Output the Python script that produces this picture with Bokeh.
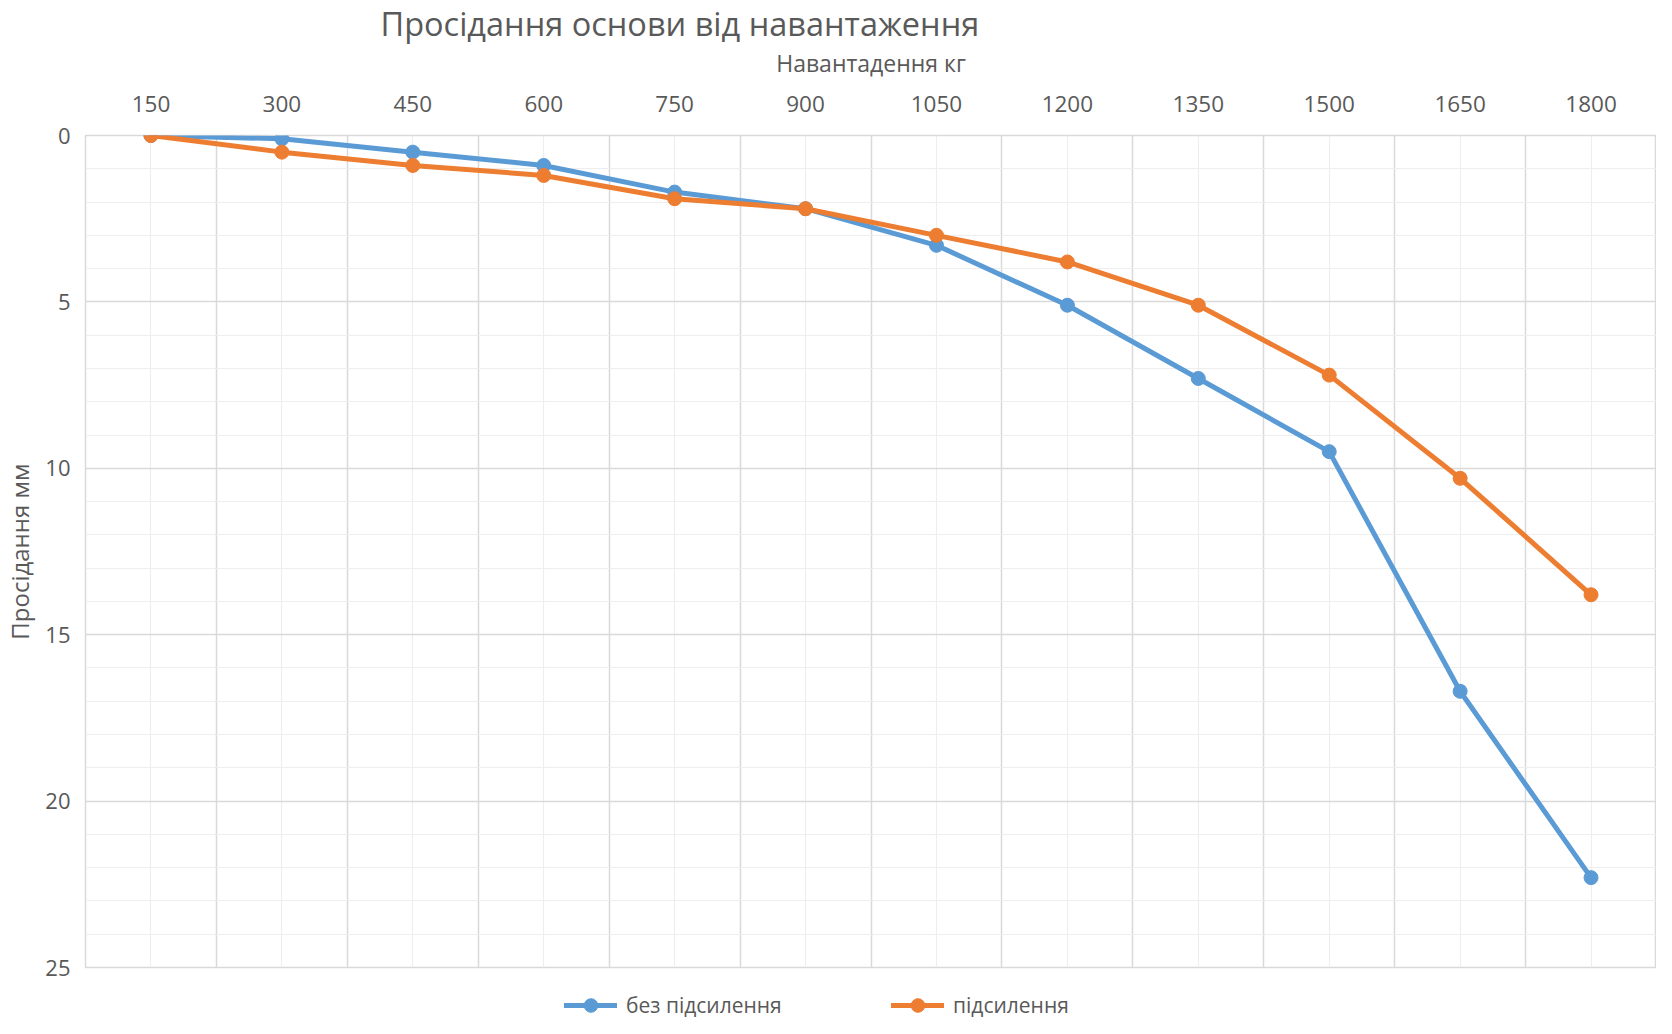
from bokeh.plotting import figure
from bokeh.layouts import column
from bokeh.models import Range1d, FixedTicker, Legend, LegendItem
from bokeh.embed import file_html
from bokeh.resources import INLINE

loads = ["150", "300", "450", "600", "750", "900", "1050", "1200", "1350", "1500", "1650", "1800"]
no_reinforcement = [0.0, 0.1, 0.5, 0.9, 1.7, 2.2, 3.3, 5.1, 7.3, 9.5, 16.7, 22.3]
reinforcement = [0.0, 0.5, 0.9, 1.2, 1.9, 2.2, 3.0, 3.8, 5.1, 7.2, 10.3, 13.8]
y_ticks = [0, 5, 10, 15, 20, 25]
series_names = ["без підсилення", "підсилення"]

FONT = "Open Sans"
TXT = "#595959"
BLUE = "#5B9BD5"
ORANGE = "#ED7D31"

x = list(range(len(loads)))

p = figure(width=1656, height=983, output_backend="svg", toolbar_location=None,
           x_range=Range1d(-0.5, len(loads) - 0.5), y_range=Range1d(25, 0),
           x_axis_location="above",
           min_border_left=78, min_border_right=0, min_border_top=125, min_border_bottom=16)

p.title.text = "Просідання основи від навантаження"
p.title.text_font = FONT
p.title.text_font_size = "32.5px"
p.title.text_font_style = "normal"
p.title.text_color = TXT
p.title.align = "left"
p.title.offset = 295
p.title.standoff = -4

# x axis (top)
xa = p.xaxis[0]
xa.ticker = FixedTicker(ticks=x)
xa.major_label_overrides = {i: loads[i] for i in x}
xa.axis_label = "Навантадення кг"
xa.axis_label_text_font = FONT
xa.axis_label_text_font_size = "23px"
xa.axis_label_text_font_style = "normal"
xa.axis_label_text_color = TXT
xa.axis_label_standoff = 14
xa.major_label_text_font = FONT
xa.major_label_text_font_size = "22.5px"
xa.major_label_text_color = TXT
xa.major_label_standoff = 18
xa.axis_line_color = None
xa.major_tick_line_color = None
xa.minor_tick_line_color = None

# y axis
ya = p.yaxis[0]
ya.ticker = FixedTicker(ticks=y_ticks)
ya.axis_label = "Просідання мм"
ya.axis_label_text_font = FONT
ya.axis_label_text_font_size = "24px"
ya.axis_label_text_font_style = "normal"
ya.axis_label_text_color = TXT
ya.axis_label_standoff = 6
ya.major_label_text_font = FONT
ya.major_label_text_font_size = "22px"
ya.major_label_text_color = TXT
ya.major_label_standoff = 9
ya.axis_line_color = None
ya.major_tick_line_color = None
ya.minor_tick_line_color = None

# grids
p.ygrid.ticker = FixedTicker(ticks=y_ticks, minor_ticks=list(range(26)))
p.ygrid.grid_line_color = "#d9d9d9"
p.ygrid.grid_line_width = 1.5
p.ygrid.minor_grid_line_color = "#eeeeee"
p.ygrid.minor_grid_line_width = 1.2

bounds = [i - 0.5 for i in range(len(loads) + 1)]
p.xgrid.ticker = FixedTicker(ticks=bounds, minor_ticks=x)
p.xgrid.grid_line_color = "#d9d9d9"
p.xgrid.grid_line_width = 1.5
p.xgrid.minor_grid_line_color = "#eeeeee"
p.xgrid.minor_grid_line_width = 1.2

p.outline_line_color = "#d9d9d9"
p.outline_line_width = 1.5

p.line(x, no_reinforcement, line_width=5, color=BLUE, line_join="round", line_cap="round")
p.scatter(x, no_reinforcement, size=14, color=BLUE)
p.line(x, reinforcement, line_width=5, color=ORANGE, line_join="round", line_cap="round")
p.scatter(x, reinforcement, size=14, color=ORANGE)

# legend strip below the chart (its renderers sit outside its visible range)
lg = figure(width=1656, height=35, output_backend="svg", toolbar_location=None,
            x_range=Range1d(100, 101), y_range=Range1d(100, 101),
            x_axis_location=None, y_axis_location=None,
            min_border_left=0, min_border_right=0, min_border_top=0, min_border_bottom=0)
lg.grid.visible = False
lg.outline_line_color = None
lb1 = lg.line(x, no_reinforcement, line_width=5, color=BLUE, line_cap="round")
sb1 = lg.scatter(x, no_reinforcement, size=14, color=BLUE)
lb2 = lg.line(x, reinforcement, line_width=5, color=ORANGE, line_cap="round")
sb2 = lg.scatter(x, reinforcement, size=14, color=ORANGE)

legend = Legend(items=[LegendItem(label=series_names[0], renderers=[lb1, sb1]),
                       LegendItem(label=series_names[1], renderers=[lb2, sb2])],
                orientation="horizontal", location=(479, -4),
                glyph_width=53, glyph_height=34, label_height=34, label_width=160,
                label_standoff=9, spacing=105, padding=0, margin=0,
                border_line_color=None, background_fill_alpha=0,
                label_text_font=FONT, label_text_font_size="21px", label_text_color=TXT)
lg.add_layout(legend)

layout = column(p, lg, spacing=0)
open("out.html", "w").write(file_html(layout, INLINE))
